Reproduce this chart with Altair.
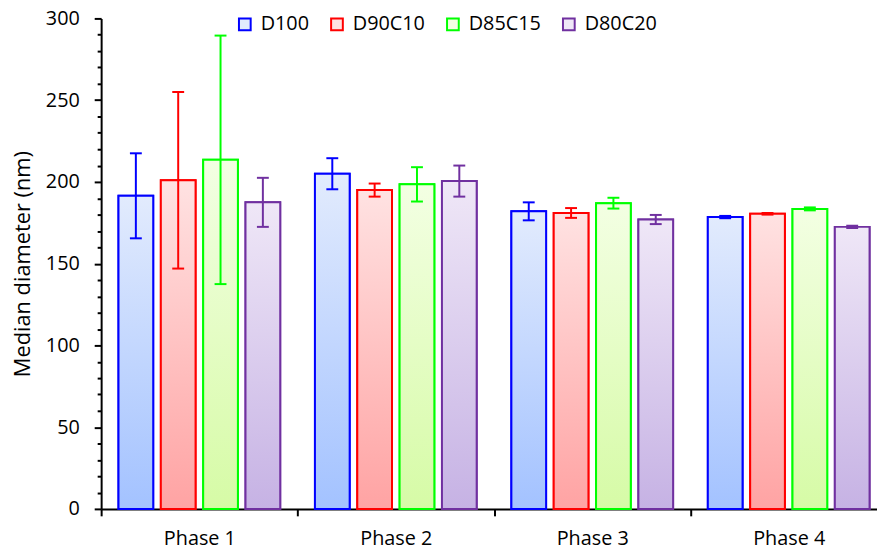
import altair as alt
import pandas as pd

phases = ["Phase 1", "Phase 2", "Phase 3", "Phase 4"]
series = ["D100", "D90C10", "D85C15", "D80C20"]

mean_d100 = [191.5, 205.0, 182.0, 178.5]
mean_d90c10 = [201.0, 195.0, 181.0, 180.5]
mean_d85c15 = [213.5, 198.5, 187.0, 183.5]
mean_d80c20 = [187.5, 200.5, 177.0, 172.5]

err_d100 = [26.0, 9.5, 5.5, 0.7]
err_d90c10 = [54.0, 4.0, 3.0, 0.5]
err_d85c15 = [76.0, 10.5, 3.3, 0.9]
err_d80c20 = [15.0, 9.5, 2.8, 0.7]

stroke_colors = ["#0000ff", "#ff0000", "#00ff00", "#7030a0"]
fill_top = ["#e2ebfd", "#ffe2e2", "#f3ffe3", "#efe7f7"]
fill_bottom = ["#a3c2ff", "#ffa3a3", "#d6fba6", "#c6b2e4"]

FONT = "Open Sans"

means = [mean_d100, mean_d90c10, mean_d85c15, mean_d80c20]
errs = [err_d100, err_d90c10, err_d85c15, err_d80c20]
rows = []
for s, m, e in zip(series, means, errs):
    for p, mv, ev in zip(phases, m, e):
        rows.append(dict(phase=p, series=s, mean=mv, lo=mv - ev, hi=mv + ev))
df = pd.DataFrame(rows)

x_enc = alt.X(
    "phase:N", sort=phases, title=None,
    scale=alt.Scale(domain=phases, paddingInner=0, paddingOuter=0, range=[0, 793]),
    axis=alt.Axis(tickBand="extent", labelAngle=0, labelFontSize=20, labelFont=FONT,
                  labelColor="black", tickSize=7, tickWidth=2, domainWidth=2,
                  domainColor="black", tickColor="black", labelBaseline="alphabetic",
                  labelPadding=29, grid=False),
)
xo_enc = alt.XOffset("series:N", sort=series,
                     scale=alt.Scale(domain=series, paddingInner=0.18, paddingOuter=0.41))

y_scale = alt.Scale(domain=[0, 300], nice=False, zero=True)
y_axis = alt.Axis(
    values=list(range(0, 301, 10)),
    labelExpr="datum.value % 50 === 0 ? datum.label : ''",
    tickSize={"condition": {"test": "datum.value % 50 === 0", "value": 7}, "value": 4},
    labelOverlap=False, labelFlush=False, grid=False,
    domainColor="black", tickColor="black", domainWidth=2, tickWidth=2,
    labelFontSize=20, labelFont=FONT, labelColor="black", labelPadding=15,
    titleFontSize=22, titleFont=FONT, titleFontWeight="normal", titleColor="black",
    titlePadding=11,
)
Y_TITLE = "Median diameter (nm)"


def y_enc(field):
    return alt.Y(field, scale=y_scale, axis=y_axis, title=Y_TITLE)


legend = alt.Legend(
    orient="none", legendX=135, legendY=-4, direction="horizontal", title=None,
    symbolType="square", symbolSize=140, symbolStrokeWidth=2, symbolOpacity=1,
    labelFontSize=20, labelFont=FONT, labelColor="black", columnPadding=18,
    labelOffset=6, padding=0,
)

base = alt.Chart(df).mark_bar(strokeWidth=2).encode(
    x=x_enc, xOffset=xo_enc, y=y_enc("mean:Q"),
    fill=alt.Fill("series:N", sort=series, scale=alt.Scale(domain=series, range=fill_top), legend=legend),
    stroke=alt.Stroke("series:N", sort=series, scale=alt.Scale(domain=series, range=stroke_colors), legend=legend),
)

layers = [base]
for s, c, top, bot in zip(series, stroke_colors, fill_top, fill_bottom):
    grad = alt.Gradient(
        gradient="linear",
        stops=[alt.GradientStop(color=top, offset=0), alt.GradientStop(color=bot, offset=1)],
        x1=0, x2=0, y1=0, y2=1,
    )
    sub = alt.Chart(df).transform_filter(alt.datum.series == s)
    layers.append(sub.mark_bar(fill=grad, stroke=c, strokeWidth=2).encode(
        x=x_enc, xOffset=xo_enc, y=y_enc("mean:Q")))
    layers.append(sub.mark_rule(color=c, strokeWidth=2).encode(
        x=x_enc, xOffset=xo_enc, y=y_enc("lo:Q"), y2="hi:Q"))
    layers.append(sub.mark_tick(color=c, size=12, thickness=2, opacity=1).encode(
        x=x_enc, xOffset=xo_enc, y=y_enc("hi:Q")))
    layers.append(sub.mark_tick(color=c, size=12, thickness=2, opacity=1).encode(
        x=x_enc, xOffset=xo_enc, y=y_enc("lo:Q")))

chart = alt.layer(*layers).properties(
    width=783, height=495,
    autosize=alt.AutoSizeParams(type="none"),
    padding={"left": 94, "top": 8, "right": 0, "bottom": 43},
    background="white",
).configure_view(stroke=None)

chart.save("out.html", embed_options={"renderer": "svg", "actions": False})
